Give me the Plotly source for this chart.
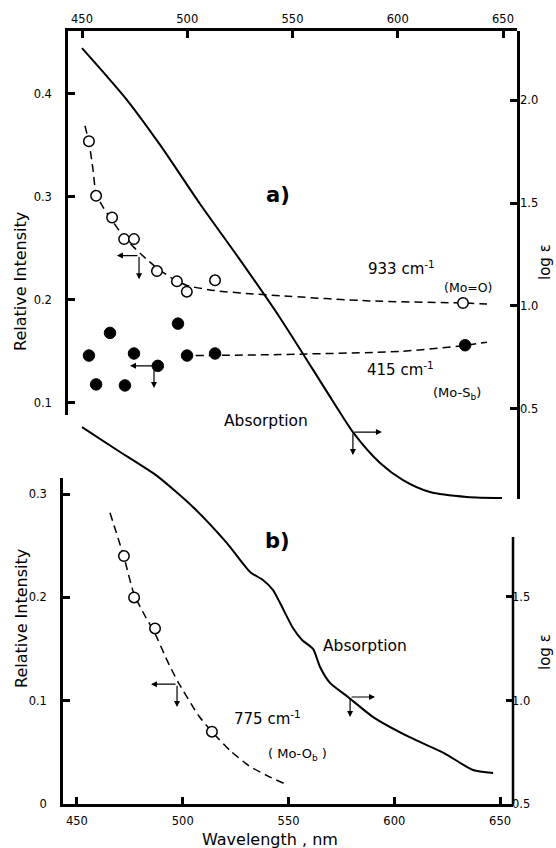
import plotly.graph_objects as go

# ---------------- data ----------------
# Panel a) : 933 cm-1 (Mo=O), open circles
wl_933 = [453.3, 456.7, 464.3, 470.0, 474.7, 485.6, 495.1, 499.8, 513.2, 631.0]
int_933 = [0.354, 0.301, 0.280, 0.259, 0.259, 0.228, 0.218, 0.208, 0.219, 0.197]
fit_933_wl = [451.4, 453.3, 455.2, 456.7, 460.0, 464.3, 470.0, 474.7, 480.4, 485.6,
              492.8, 499.9, 513.2, 529.8, 544.1, 586.8, 631.0, 642.4]
fit_933_int = [0.369, 0.353, 0.327, 0.303, 0.290, 0.277, 0.261, 0.251, 0.240, 0.231,
               0.221, 0.214, 0.209, 0.206, 0.204, 0.199, 0.197, 0.196]

# Panel a) : 415 cm-1 (Mo-Sb), filled circles
wl_415 = [453.3, 456.7, 463.3, 470.4, 474.7, 486.0, 495.6, 499.9, 513.2, 632.0]
int_415 = [0.146, 0.118, 0.168, 0.117, 0.148, 0.136, 0.177, 0.146, 0.148, 0.156]
fit_415_wl = [504.0, 544.0, 601.0, 628.6, 642.4]
fit_415_int = [0.146, 0.147, 0.150, 0.155, 0.159]

# Panel a) : absorption (log eps)
abs_a_wl = [450.0, 460.9, 471.4, 487.1, 506.1, 525.0, 544.1, 568.8, 578.7, 591.6,
            602.5, 615.3, 632.9, 649.5]
abs_a_loge = [2.252, 2.126, 2.000, 1.782, 1.495, 1.225, 0.942, 0.544, 0.388, 0.238,
              0.155, 0.097, 0.073, 0.068]

# Panel b) : 775 cm-1 (Mo-Ob), open circles
wl_775 = [472.2, 477.0, 486.9, 513.8]
int_775 = [0.24, 0.20, 0.17, 0.07]
fit_775_wl = [465.6, 472.2, 477.0, 482.2, 486.9, 492.6, 497.8, 507.7, 513.8, 522.8,
              531.3, 540.3, 548.8]
fit_775_int = [0.282, 0.239, 0.203, 0.182, 0.165, 0.139, 0.118, 0.085, 0.070, 0.051,
               0.037, 0.027, 0.019]

# Panel b) : absorption (log eps)
abs_b_wl = [452.4, 468.9, 487.8, 504.8, 520.8, 531.8, 537.9, 542.6, 546.0, 552.1,
            556.4, 561.6, 564.9, 569.6, 578.1, 590.0, 607.0, 623.5, 637.2, 646.7]
abs_b_loge = [2.321, 2.210, 2.085, 1.935, 1.761, 1.621, 1.582, 1.534, 1.471, 1.350,
              1.292, 1.249, 1.162, 1.085, 1.017, 0.920, 0.824, 0.746, 0.664, 0.650]

x_ticks = [450, 500, 550, 600, 650]
ri_ticks_a = [0.1, 0.2, 0.3, 0.4]
loge_ticks_a = [0.5, 1.0, 1.5, 2.0]
ri_ticks_b = [0, 0.1, 0.2, 0.3]
loge_ticks_b = [0.5, 1.0, 1.5]

# ---------------- figure ----------------
W, H = 556, 848
FONT = "DejaVu Sans"


def fx(p):
    return p / W


def fy(p):
    return 1 - p / H


fig = go.Figure()

dash = "8px,5px"
# panel a
fig.add_trace(go.Scatter(x=abs_a_wl, y=abs_a_loge, xaxis="x", yaxis="y2", mode="lines",
                         line=dict(color="black", width=2, shape="spline", smoothing=0.8)))
fig.add_trace(go.Scatter(x=fit_933_wl, y=fit_933_int, xaxis="x", yaxis="y", mode="lines",
                         line=dict(color="black", width=1.5, dash=dash, shape="spline", smoothing=0.6)))
fig.add_trace(go.Scatter(x=fit_415_wl, y=fit_415_int, xaxis="x", yaxis="y", mode="lines",
                         line=dict(color="black", width=1.5, dash=dash, shape="spline", smoothing=0.6)))
fig.add_trace(go.Scatter(x=wl_933, y=int_933, xaxis="x", yaxis="y", mode="markers",
                         marker=dict(symbol="circle", size=10.5, color="white",
                                     line=dict(color="black", width=1.5))))
fig.add_trace(go.Scatter(x=wl_415, y=int_415, xaxis="x", yaxis="y", mode="markers",
                         marker=dict(symbol="circle", size=11.5, color="black",
                                     line=dict(color="black", width=1))))
# panel b
fig.add_trace(go.Scatter(x=abs_b_wl, y=abs_b_loge, xaxis="x2", yaxis="y4", mode="lines",
                         line=dict(color="black", width=2, shape="spline", smoothing=0.6)))
fig.add_trace(go.Scatter(x=fit_775_wl, y=fit_775_int, xaxis="x2", yaxis="y3", mode="lines",
                         line=dict(color="black", width=1.5, dash=dash, shape="spline", smoothing=0.6)))
fig.add_trace(go.Scatter(x=wl_775, y=int_775, xaxis="x2", yaxis="y3", mode="markers",
                         marker=dict(symbol="circle", size=10.5, color="white",
                                     line=dict(color="black", width=1.5))))

axis_common = dict(showgrid=False, zeroline=False, showline=True, linecolor="black",
                   linewidth=2.5, ticks="inside", ticklen=7, tickwidth=2.5,
                   tickcolor="black", tickfont=dict(family=FONT, size=11.5, color="black"))

fig.update_layout(
    width=W, height=H, margin=dict(l=0, r=0, t=0, b=0, pad=0, autoexpand=False),
    paper_bgcolor="white", plot_bgcolor="rgba(0,0,0,0)", showlegend=False,
    xaxis=dict(domain=[fx(68), fx(517)], range=[443.35, 656.65], side="top", anchor="y",
               tickvals=x_ticks, ticklabelstandoff=1, **axis_common),
    yaxis=dict(domain=[fy(415), fy(31)], range=[0.0883, 0.461], anchor="x", side="left",
               tickvals=ri_ticks_a, tickformat=".1f", ticklabelstandoff=11, **axis_common),
    yaxis2=dict(domain=[fy(499), fy(31)], range=[0.063, 2.335], anchor="x", side="right",
                tickvals=loge_ticks_a, tickformat=".1f", ticklabelstandoff=-2, **axis_common),
    xaxis2=dict(domain=[fx(63), fx(513)], range=[443.4, 656.1], side="bottom", anchor="y3",
                tickvals=x_ticks, ticklabelstandoff=4, **axis_common),
    yaxis3=dict(domain=[fy(804), fy(478)], range=[0, 0.3156], anchor="x2", side="left",
                tickvals=ri_ticks_b, tickformat=".1~f", ticklabelstandoff=11, **axis_common),
    yaxis4=dict(domain=[fy(804), fy(420)], range=[0.5, 2.355], anchor="x2", side="right",
                tickvals=loge_ticks_b, tickformat=".1f", ticklabelstandoff=-2,
                **{**axis_common, "showline": False}),
)

# right axis line of panel b (shorter than its plotting domain)
fig.add_shape(type="line", xref="x2 domain", x0=1, x1=1, yref="y4", y0=0.5, y1=1.79,
              line=dict(color="black", width=2.5))

# arrows (tip, corner) in data units
arrows = [
    ("x", "y", 466.6, 0.243, 477.1, 0.243),
    ("x", "y", 477.1, 0.220, 477.1, 0.243),
    ("x", "y", 472.8, 0.136, 484.2, 0.136),
    ("x", "y", 484.2, 0.1146, 484.2, 0.136),
    ("x", "y2", 592.5, 0.388, 578.7, 0.388),
    ("x", "y2", 578.7, 0.277, 578.7, 0.388),
    ("x2", "y3", 485.0, 0.116, 497.3, 0.116),
    ("x2", "y3", 497.3, 0.094, 497.3, 0.116),
    ("x2", "y4", 590.9, 1.017, 579.1, 1.017),
    ("x2", "y4", 579.1, 0.920, 579.1, 1.017),
]
for xr, yr, x, y, ax, ay in arrows:
    fig.add_annotation(xref=xr, yref=yr, axref=xr, ayref=yr, x=x, y=y, ax=ax, ay=ay,
                       text="", showarrow=True, arrowhead=2, arrowsize=1,
                       arrowwidth=1.2, arrowcolor="black", standoff=0, startstandoff=0)


def label(text, px, py, size=13, xanchor="left", angle=0, bold=False):
    if bold:
        text = "<b>" + text + "</b>"
    fig.add_annotation(xref="paper", yref="paper", x=fx(px), y=fy(py), text=text,
                       showarrow=False, xanchor=xanchor, yanchor="middle", textangle=angle,
                       font=dict(family=FONT, size=size, color="black"))


label("a)", 278, 195, size=21, xanchor="center", bold=True)
label("933 cm<sup>-1</sup>", 366, 268, size=15)
label("(Mo=O)", 442, 287, size=12.5)
label("415 cm<sup>-1</sup>", 365, 369, size=15)
label("(Mo-S<sub>b</sub>)", 431, 394, size=13)
label("Absorption", 222, 421, size=15.5)
label("b)", 277, 541, size=21, xanchor="center", bold=True)
label("Absorption", 321, 646, size=15.5)
label("775 cm<sup>-1</sup>", 232, 718, size=15)
label("( Mo-O<sub>b</sub> )", 266, 754, size=13)
label("Wavelength , nm", 270, 839, size=16, xanchor="center")
label("Relative Intensity", 21, 282, size=16, xanchor="center", angle=-90)
label("Relative Intensity", 21, 619, size=16, xanchor="center", angle=-90)
label("log ε", 545, 262, size=15, xanchor="center", angle=-90)
label("log ε", 545, 652, size=15, xanchor="center", angle=-90)

fig.write_html("out.html",
               config={"displayModeBar": False},
               post_script="document.body.style.margin='0';"
                           "document.body.style.overflow='hidden';")
